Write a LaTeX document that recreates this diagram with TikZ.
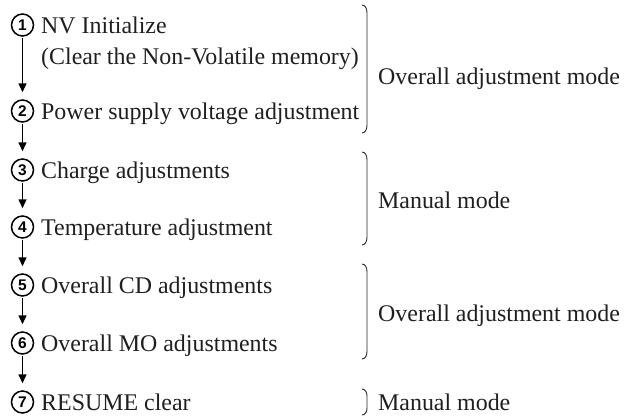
\documentclass[tikz,border=0pt]{standalone}
\usepackage{fontspec}
\setmainfont{Liberation Serif}
\newfontfamily\numfont{Liberation Sans}
\usetikzlibrary{arrows.meta}
\begin{document}
\begin{tikzpicture}[x=1bp,y=-1bp,
  num/.style={circle,draw,line width=1.5bp,minimum size=22bp,inner sep=0pt,font=\numfont\bfseries\fontsize{15.5}{15.5}\selectfont},
  lbl/.style={anchor=base west,inner sep=0pt,text=black!88,font=\fontsize{24}{28}\selectfont},
  flow/.style={line width=1.5bp,-{Triangle[length=9bp,width=8bp]},shorten >=7bp,shorten <=1bp},
  brk/.style={line width=0.9bp,black!85}]
\useasboundingbox (0,0) rectangle (624,416);
% circled step numbers
\node[num] (c1) at (22.5,25) {1};
\node[num] (c2) at (22.5,111) {2};
\node[num] (c3) at (22.5,170) {3};
\node[num] (c4) at (22.5,227) {4};
\node[num] (c5) at (22.5,285) {5};
\node[num] (c6) at (22.5,343) {6};
\node[num] (c7) at (22.5,402) {7};
% step texts
\node[lbl] (t1) at (41,33) {NV Initialize};
\node[lbl] (t1b) at (41,64) {(Clear the Non-Volatile memory)};
\node[lbl] (t2) at (41,119) {Power supply voltage adjustment};
\node[lbl] (t3) at (41,178) {Charge adjustments};
\node[lbl] (t4) at (41,235) {Temperature adjustment};
\node[lbl] (t5) at (41,293) {Overall CD adjustments};
\node[lbl] (t6) at (41,351) {Overall MO adjustments};
\node[lbl] (t7) at (41,410) {RESUME clear};
% flow arrows
\draw[flow] (c1.south) -- (c2.north);
\draw[flow] (c2.south) -- (c3.north);
\draw[flow] (c3.south) -- (c4.north);
\draw[flow] (c4.south) -- (c5.north);
\draw[flow] (c5.south) -- (c6.north);
\draw[flow] (c6.south) -- (c7.north);
% brackets
\draw[brk] (362,5) to[out=0,in=90] (367,13) -- (367,125) to[out=-90,in=0] (362,133);
\draw[brk] (362,152) to[out=0,in=90] (367,160) -- (367,237) to[out=-90,in=0] (362,245);
\draw[brk] (362,264) to[out=0,in=90] (367,272) -- (367,351) to[out=-90,in=0] (362,359);
\draw[brk] (362,389) to[out=0,in=90] (367,396) -- (367,408) to[out=-90,in=0] (362,415);
% mode labels
\node[lbl] (m1) at (378,84) {Overall adjustment mode};
\node[lbl] (m2) at (378,208) {Manual mode};
\node[lbl] (m3) at (378,321) {Overall adjustment mode};
\node[lbl] (m4) at (378,410) {Manual mode};
\end{tikzpicture}
\end{document}
